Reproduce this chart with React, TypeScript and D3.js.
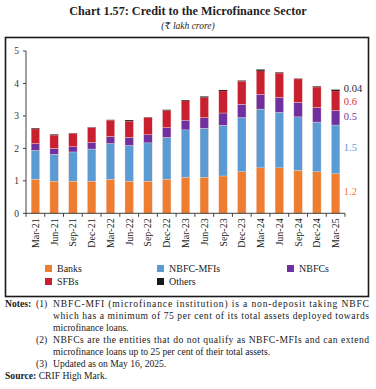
import React from "react";
import * as d3 from "d3";

const categories = ["Mar-21","Jun-21","Sep-21","Dec-21","Mar-22","Jun-22","Sep-22","Dec-22","Mar-23","Jun-23","Sep-23","Dec-23","Mar-24","Jun-24","Sep-24","Dec-24","Mar-25"];
const banks =    [1.05,0.99,0.99,0.99,1.05,0.99,0.99,1.05,1.11,1.11,1.15,1.28,1.40,1.40,1.32,1.28,1.22];
const nbfcMfis = [0.89,0.83,0.90,0.99,1.10,1.10,1.18,1.29,1.46,1.51,1.56,1.67,1.81,1.71,1.65,1.53,1.50];
const nbfcs =    [0.21,0.18,0.16,0.21,0.22,0.25,0.25,0.30,0.30,0.33,0.38,0.41,0.46,0.46,0.45,0.45,0.45];
const sfbs =     [0.45,0.41,0.41,0.45,0.50,0.50,0.53,0.53,0.60,0.62,0.68,0.71,0.72,0.75,0.72,0.63,0.60];
const others =   [0.02,0.02,0.01,0.01,0.01,0.03,0.01,0.02,0.02,0.03,0.03,0.02,0.04,0.02,0.01,0.02,0.04];
const yTicks = [0,1,2,3,4,5];
const seriesNames = ["Banks","NBFC-MFIs","NBFCs","SFBs","Others"];
const seriesColors = ["#EF7D31","#5B9BD5","#7030A0","#C8202E","#1a1a1a"];
const endLabels = ["1.2","1.5","0.5","0.6","0.04"];
const endLabelColors = ["#EF7D31","#5B9BD5","#7030A0","#E0303A","#1a2440"];

const W = 376, H = 389;
const serif = "'Liberation Serif', 'DejaVu Serif', serif";

export default function App() {
  const left = 26, right = 345, top = 51, bottom = 213.3;
  const x = d3.scaleBand().domain(categories).range([left, right]).paddingInner(0.55).paddingOuter(0.275);
  const y = d3.scaleLinear().domain([0, 5]).range([bottom, top]);
  const rows = categories.map((c, i) => ({ cat: c, Banks: banks[i], "NBFC-MFIs": nbfcMfis[i], NBFCs: nbfcs[i], SFBs: sfbs[i], Others: others[i] }));
  const stacked = d3.stack<any>().keys(seriesNames)(rows);
  const step = x.step();
  const last = stacked.map(s => s[s.length - 1]);
  const lastX = (x(categories[categories.length - 1]) as number) + x.bandwidth() + 4;
  const endY = [
    y((last[0][0] + last[0][1]) / 2) - 2,
    y((last[1][0] + last[1][1]) / 2) - 2,
    y((last[2][0] + last[2][1]) / 2) - 1,
    y((last[3][0] + last[3][1]) / 2) + 0.5,
    y(last[4][1]) - 1,
  ];
  const legendItems = [
    { name: "Banks", x: 45, y: 268.5 },
    { name: "NBFC-MFIs", x: 157, y: 268.5 },
    { name: "NBFCs", x: 287, y: 268.5 },
    { name: "SFBs", x: 45, y: 281.5 },
    { name: "Others", x: 157, y: 281.5 },
  ];
  const axisColor = "#404040";
  const noteSize = 9.6;
  return (
    <svg width={W} height={H} style={{ position: "absolute", left: 0, top: 0, background: "#fff" }} fontFamily={serif}>
      <text x={188} y={15} textAnchor="middle" fontWeight="bold" fontSize={12.2} fill="#1f1f1f">Chart 1.57: Credit to the Microfinance Sector</text>
      <text x={188} y={28.5} textAnchor="middle" fontStyle="italic" fontSize={9.5} fill="#1f1f1f">(₹ lakh crore)</text>
      <rect x={5.5} y={37.5} width={363} height={259} fill="none" stroke="#1a1a1a" strokeWidth={1.6} />
      {stacked.map((s, si) => (
        <g key={si} fill={seriesColors[si]}>
          {s.map((d, i) => (
            <rect key={i} x={x(categories[i])} y={y(d[1])} width={x.bandwidth()} height={Math.max(0, y(d[0]) - y(d[1]))}
              stroke={si === 4 ? "none" : "#f4d9cc"} strokeWidth={si === 4 ? 0 : 0.35} />
          ))}
        </g>
      ))}
      <line x1={left} x2={left} y1={y(5)} y2={bottom} stroke={axisColor} strokeWidth={1} />
      {yTicks.map(t => (
        <g key={t}>
          <line x1={left - 3} x2={left} y1={y(t)} y2={y(t)} stroke={axisColor} strokeWidth={1} />
          <text x={left - 7} y={y(t)} dy="0.35em" textAnchor="end" fontSize={9.5} fill="#333">{t}</text>
        </g>
      ))}
      <line x1={left} x2={right} y1={bottom} y2={bottom} stroke={axisColor} strokeWidth={1} />
      {d3.range(categories.length + 1).map(i => (
        <line key={i} x1={left + i * step} x2={left + i * step} y1={bottom} y2={bottom + 3.5} stroke={axisColor} strokeWidth={1} />
      ))}
      {categories.map(c => {
        const cx = (x(c) as number) + x.bandwidth() / 2;
        return (
          <text key={c} transform={`translate(${cx + 3.5},${bottom + 5}) rotate(-90)`} textAnchor="end" fontSize={10} fill="#222">{c}</text>
        );
      })}
      {endLabels.map((l, i) => (
        <text key={i} x={lastX} y={endY[i]} dy="0.35em" fontSize={10.5} fill={endLabelColors[i]}>{l}</text>
      ))}
      {legendItems.map((it, i) => (
        <g key={it.name}>
          <rect x={it.x} y={it.y - 3.5} width={7} height={7} fill={seriesColors[i]} />
          <text x={it.x + 12} y={it.y} dy="0.35em" fontSize={10} fill="#222">{it.name}</text>
        </g>
      ))}
      <g fontSize={noteSize} fill="#1a1a1a">
        <text x={5} y={307} fontWeight="bold">Notes:</text>
        <text x={36} y={307}>(1)</text>
        <text x={53} y={307} textLength={316} lengthAdjust="spacing">NBFC-MFI (microfinance institution) is a non-deposit taking NBFC</text>
        <text x={53} y={319} textLength={316} lengthAdjust="spacing">which has a minimum of 75 per cent of its total assets deployed towards</text>
        <text x={53} y={331}>microfinance loans.</text>
        <text x={36} y={343}>(2)</text>
        <text x={53} y={343} textLength={316} lengthAdjust="spacing">NBFCs are the entities that do not qualify as NBFC-MFIs and can extend</text>
        <text x={53} y={355}>microfinance loans up to 25 per cent of their total assets.</text>
        <text x={36} y={367}>(3)</text>
        <text x={53} y={367}>Updated as on May 16, 2025.</text>
        <text x={5} y={379}><tspan fontWeight="bold">Source:</tspan> CRIF High Mark.</text>
      </g>
    </svg>
  );
}
